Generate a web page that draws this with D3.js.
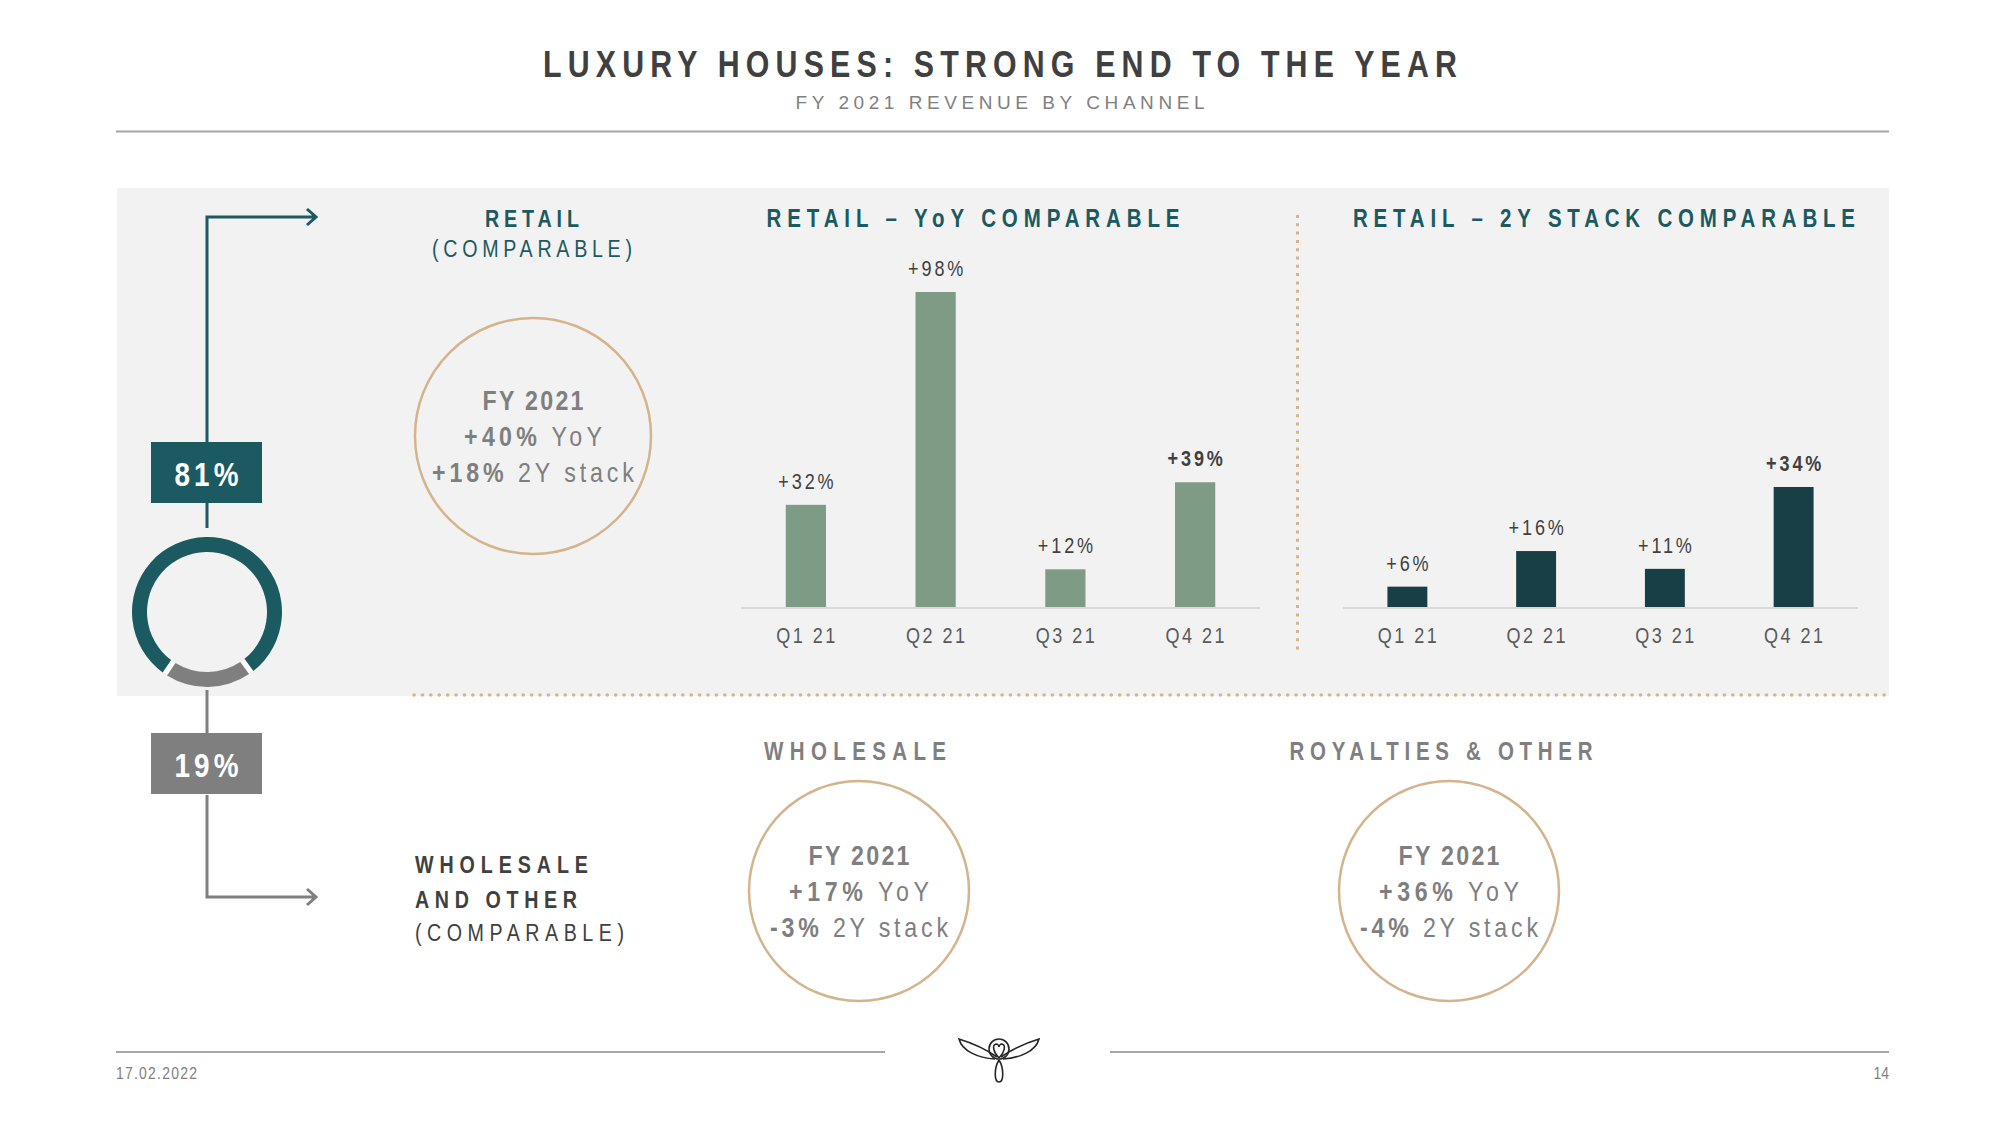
<!DOCTYPE html>
<html>
	<head>
		<title>Luxury houses: strong end to the year</title>
		<meta charset='UTF-8' />
		<style>
			body {
				margin: 0;
				background: #ffffff;
			}
			svg text {
				font-family: 'Liberation Sans', Arial, sans-serif;
			}
			.axis path {
				stroke: #d9d9d9;
				stroke-width: 2px;
			}
			.axis text {
				font-size: 22px;
				fill: #595959;
				letter-spacing: 3px;
			}
		</style>
	</head>

	<body>
	<script src='https://d3js.org/d3.v7.min.js'></script>

	<script>
	'use strict';

	// quarterly retail growth
	const quarters = ['Q1 21', 'Q2 21', 'Q3 21', 'Q4 21'];
	const yoyValues = [32, 98, 12, 39];
	const stackValues = [6, 16, 11, 34];

	// revenue split by channel
	const channels = ['Retail', 'Wholesale and other'];
	const channelShare = [81, 19];

	// FY 2021 figures in the circles
	const kpiNames = ['RETAIL', 'WHOLESALE', 'ROYALTIES & OTHER'];
	const kpiYoY = [40, 17, 36];
	const kpiStack = [18, -3, -4];

	const teal = '#1b5a60';
	const darkTeal = '#173f45';
	const sage = '#7e9b86';
	const grey = '#7f7f7f';
	const gold = '#d4b48c';

	// no narrow font installed, so glyphs get squeezed horizontally
	const narrow = 0.82;

	const width = 2000;
	const height = 1125;

	const svg = d3.select('body').append('svg')
		.attr('width', width)
		.attr('height', height);

	const pct = v => (v > 0 ? '+' : '') + v + '%';

	// text helper: parts = [[string, bold], ...], len = target width
	function label(x, y, parts, o) {
		const sx = o.sx || narrow;
		const t = svg.append('text')
			.attr('transform', 'translate(' + x + ',' + y + ') scale(' + sx + ',1)')
			.attr('text-anchor', o.anchor || 'middle')
			.attr('font-size', o.size)
			.attr('fill', o.fill);
		if (o.len) t.attr('textLength', o.len / sx).attr('lengthAdjust', 'spacing');
		parts.forEach(function(p) {
			t.append('tspan')
				.attr('font-weight', p[1] ? 'bold' : 'normal')
				.text(p[0]);
		});
		return t;
	}

	// header
	label(1000, 77, [['LUXURY HOUSES: STRONG END TO THE YEAR', true]], {size: 37, fill: '#404040', len: 914});
	label(1000, 109, [['FY 2021 REVENUE BY CHANNEL', false]], {size: 19, fill: '#808080', len: 409, sx: 1});
	svg.append('line')
		.attr('x1', 116).attr('x2', 1889)
		.attr('y1', 131.5).attr('y2', 131.5)
		.attr('stroke', '#a6a6a6')
		.attr('stroke-width', 2);

	svg.append('rect')
		.attr('x', 117).attr('y', 188)
		.attr('width', 1772).attr('height', 508)
		.attr('fill', '#f2f2f2');

	// separators
	svg.append('line')
		.attr('x1', 1297.5).attr('x2', 1297.5)
		.attr('y1', 215).attr('y2', 654)
		.attr('stroke', gold)
		.attr('stroke-width', 3)
		.attr('stroke-dasharray', '3,5.3');
	svg.append('line')
		.attr('x1', 414).attr('x2', 1889)
		.attr('y1', 695).attr('y2', 695)
		.attr('stroke', gold)
		.attr('stroke-width', 3.5)
		.attr('stroke-linecap', 'round')
		.attr('stroke-dasharray', '0.1,8.3');

	// bar charts
	function barChart(values, x0, x1, yTop, color, title, titleX, titleLen) {
		const baseline = 608;
		const x = d3.scaleBand()
			.domain(quarters)
			.range([x0, x1])
			.paddingInner(0.69)
			.paddingOuter(0.345);
		const y = d3.scaleLinear()
			.domain([0, d3.max(values)])
			.range([baseline, yTop]);

		const g = svg.append('g');

		g.selectAll('rect')
			.data(values)
			.enter().append('rect')
			.attr('x', (d, i) => x(quarters[i]))
			.attr('y', d => y(d))
			.attr('width', x.bandwidth())
			.attr('height', d => baseline - y(d))
			.attr('fill', color);

		g.selectAll('text.val')
			.data(values)
			.enter().append('text')
			.attr('class', 'val')
			.attr('transform', (d, i) => 'translate(' + (x(quarters[i]) + x.bandwidth() / 2 + 1.5) + ',' + (y(d) - 16) + ') scale(' + narrow + ',1)')
			.attr('text-anchor', 'middle')
			.attr('font-size', 22)
			.attr('letter-spacing', 3.5)
			.attr('font-weight', (d, i) => i === values.length - 1 ? 'bold' : 'normal')
			.attr('fill', '#404040')
			.text(d => pct(d));

		g.append('g')
			.attr('class', 'axis')
			.attr('transform', 'translate(0,' + baseline + ')')
			.call(d3.axisBottom(x).tickSize(0).tickPadding(19))
			.call(a => a.select('.domain').attr('d', 'M' + x0 + ',0H' + x1))
			.call(a => a.selectAll('.tick text').attr('transform', 'translate(1.2,0) scale(' + narrow + ',1)'));

		label(titleX, 227, [[title, true]], {size: 25, fill: teal, len: titleLen});
	}

	barChart(yoyValues, 741, 1260, 292, sage, 'RETAIL \u2013 YoY COMPARABLE', 973, 413);
	barChart(stackValues, 1343, 1858, 487, darkTeal, 'RETAIL \u2013 2Y STACK COMPARABLE', 1604, 502);

	// channel split: donut with boxes and arrows
	const cx = 207;
	const cy = 612;
	const shareColors = [teal, grey];
	const greyAngle = channelShare[1] / d3.sum(channelShare) * Math.PI * 2;
	const pie = d3.pie()
		.sort(null)
		.startAngle(Math.PI + greyAngle / 2)
		.endAngle(Math.PI * 3 + greyAngle / 2)
		.padAngle(0.055);
	const arc = d3.arc().innerRadius(60).outerRadius(75);

	const donut = svg.append('g')
		.attr('transform', 'translate(' + cx + ',' + cy + ')');
	// white ring under the slices so the gaps show white
	donut.append('path')
		.attr('d', d3.arc().innerRadius(61).outerRadius(74).startAngle(0).endAngle(Math.PI * 2)())
		.attr('fill', '#ffffff');
	donut.selectAll('path.slice')
		.data(pie(channelShare))
		.enter().append('path')
		.attr('class', 'slice')
		.attr('d', arc)
		.attr('fill', (d, i) => shareColors[i]);

	const boxY = [442, 733];
	const flowPaths = [
		'M' + cx + ',' + boxY[0] + 'V217H316M' + cx + ',503V528',
		'M' + cx + ',690V' + boxY[1] + 'M' + cx + ',795V897H316'
	];
	const arrowY = [217, 897];
	channelShare.forEach(function(v, i) {
		svg.append('path')
			.attr('d', flowPaths[i] + 'M307,' + (arrowY[i] - 8) + 'L316,' + arrowY[i] + 'L307,' + (arrowY[i] + 8))
			.attr('fill', 'none')
			.attr('stroke', shareColors[i])
			.attr('stroke-width', 3);
		svg.append('rect')
			.attr('x', 151).attr('y', boxY[i])
			.attr('width', 111).attr('height', 61)
			.attr('fill', shareColors[i]);
		label(cx - 0.5, boxY[i] + 44, [[v + '%', true]], {size: 34, fill: '#ffffff', len: 64});
	});

	// channel labels
	label(532, 227, [['RETAIL', true]], {size: 24, fill: teal, len: 94});
	label(532, 257, [['(COMPARABLE)', false]], {size: 24, fill: teal, len: 200});
	label(415, 873, [['WHOLESALE', true]], {size: 24, fill: '#404040', len: 173, anchor: 'start'});
	label(415, 908, [['AND OTHER', true]], {size: 24, fill: '#404040', len: 162, anchor: 'start'});
	label(415, 941, [['(COMPARABLE)', false]], {size: 24, fill: '#404040', len: 209, anchor: 'start'});

	// FY 2021 circles
	const circleX = [533, 859, 1449];
	const circleY = [436, 891, 891];
	const circleR = [118, 110, 110];
	const nameX = [0, 855, 1441];
	const nameLen = [0, 182, 303];
	const yoyLen = [138, 140, 140];
	const stackLen = [202, 178, 178];
	kpiNames.forEach(function(name, i) {
		svg.append('circle')
			.attr('cx', circleX[i])
			.attr('cy', circleY[i])
			.attr('r', circleR[i])
			.attr('fill', i === 0 ? 'none' : '#ffffff')
			.attr('stroke', gold)
			.attr('stroke-width', 2.5);
		if (i > 0) {
			label(nameX[i], 760, [[name, true]], {size: 25, fill: grey, len: nameLen[i]});
		}
		label(circleX[i], circleY[i] - 26, [['FY 2021', true]], {size: 27, fill: grey, len: 101, sx: 0.86});
		label(circleX[i], circleY[i] + 10, [[pct(kpiYoY[i]), true], [' YoY', false]], {size: 27, fill: grey, len: yoyLen[i], sx: 0.86});
		label(circleX[i], circleY[i] + 46, [[pct(kpiStack[i]), true], [' 2Y stack', false]], {size: 27, fill: grey, len: stackLen[i], sx: 0.86});
	});

	// footer
	[[116, 885], [1110, 1889]].forEach(function(s) {
		svg.append('line')
			.attr('x1', s[0]).attr('x2', s[1])
			.attr('y1', 1052).attr('y2', 1052)
			.attr('stroke', '#a6a6a6')
			.attr('stroke-width', 2);
	});
	label(116, 1079, [['17.02.2022', false]], {size: 17, fill: '#808080', len: 81, anchor: 'start'});
	label(1889, 1079, [['14', false]], {size: 17, fill: '#808080', anchor: 'end'});

	// logo
	const logo = svg.append('g')
		.attr('fill', 'none')
		.attr('stroke', '#262626')
		.attr('stroke-width', 1.6);
	logo.append('path')
		.attr('d', 'M995,1059C978,1058 962,1051 959,1039C972,1043 987,1050 997,1057' +
			'M1003,1059C1020,1058 1036,1051 1039,1039C1026,1043 1011,1050 1001,1057');
	logo.append('circle').attr('cx', 999).attr('cy', 1049).attr('r', 10);
	logo.append('path')
		.attr('d', 'M999,1058C993,1052 992,1045 996,1044C998,1044 999,1046 999,1047C999,1046 1000,1044 1002,1044C1006,1045 1005,1052 999,1058');
	logo.append('path')
		.attr('d', 'M999,1060C994,1068 994,1082 999,1082C1004,1082 1004,1068 999,1060');
	</script>
</body>
</html>
